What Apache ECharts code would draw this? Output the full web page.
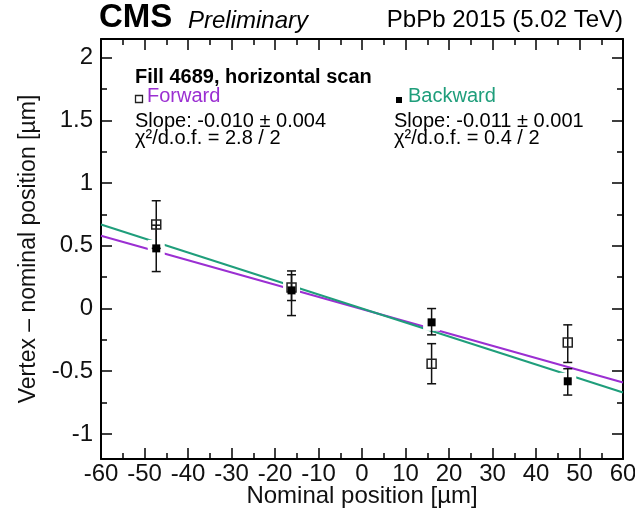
<!DOCTYPE html>
<html>
<head>
<meta charset="utf-8">
<script src="https://cdn.jsdelivr.net/npm/echarts@6/dist/echarts.min.js"></script>
<style>
  html, body { margin: 0; padding: 0; background: #fff; }
  #chart { width: 635px; height: 512px; }
</style>
</head>
<body>
<div id="chart"></div>
<script>
// scan points (nominal position, um)
const positions = [-47.3, -16.2, 16.0, 47.3];

// Forward: open squares
const fwdY = [0.67, 0.167, -0.44, -0.27];
const fwdLow = [0.48, 0.064, -0.60, -0.43];
const fwdHigh = [0.86, 0.27, -0.28, -0.13];

// Backward: filled squares
const bwdY = [0.48, 0.145, -0.11, -0.58];
const bwdLow = [0.295, -0.056, -0.21, -0.69];
const bwdHigh = [0.665, 0.30, 0.0, -0.48];

// fit lines, value at x = -60 and x = 60
const fitX = [-60, 60];
const fwdFit = [0.58, -0.59];
const bwdFit = [0.67, -0.67];

const yMajor = [-1, -0.5, 0, 0.5, 1, 1.5, 2];
const yMinor = [-0.75, -0.25, 0.25, 0.75, 1.25, 1.75];

const purple = '#9b2fd2';
const green = '#1f9e7b';
const font = 'Liberation Sans';

const zip = (xs, ...cols) => xs.map((x, i) => [x, ...cols.map(c => c[i])]);

const errorBars = (data, z) => ({
  type: 'custom',
  z,
  silent: true,
  data,
  encode: { x: 0, y: [1, 2] },
  renderItem(params, api) {
    const x = api.value(0);
    const lo = api.coord([x, api.value(1)]);
    const hi = api.coord([x, api.value(2)]);
    const w = 4.5;
    const style = { stroke: '#111', lineWidth: 1.5 };
    return {
      type: 'group',
      children: [
        { type: 'line', shape: { x1: lo[0], y1: lo[1], x2: hi[0], y2: hi[1] }, style },
        { type: 'line', shape: { x1: lo[0] - w, y1: lo[1], x2: lo[0] + w, y2: lo[1] }, style },
        { type: 'line', shape: { x1: hi[0] - w, y1: hi[1], x2: hi[0] + w, y2: hi[1] }, style }
      ]
    };
  }
});

const axisLine = { show: true, onZero: false, lineStyle: { color: '#000', width: 2 } };
const noLine = { show: false, onZero: false };
const tick = (length, customValues) => ({
  inside: true, length, customValues, lineStyle: { color: '#000', width: 1.5 }
});

const xBase = {
  type: 'value', min: -60, max: 60, interval: 10,
  axisLine,
  axisTick: tick(11),
  minorTick: { show: true, splitNumber: 2, length: 6, lineStyle: { color: '#000', width: 1.5 } },
  splitLine: { show: false }
};

const yBase = { type: 'value', min: -1.2, max: 2.15, splitLine: { show: false }, axisLabel: { show: false } };

const chart = echarts.init(document.getElementById('chart'));

chart.setOption({
  animation: false,
  textStyle: { fontFamily: font },
  grid: { left: 101, right: 12, top: 39, bottom: 53, outerBoundsMode: 'none', containLabel: false },
  xAxis: [
    {
      ...xBase, position: 'bottom',
      axisLabel: { fontSize: 24, color: '#111', margin: 3, showMinLabel: true, showMaxLabel: true },
      name: 'Nominal position [µm]', nameLocation: 'middle', nameGap: 25, nameMoveOverlap: false,
      nameTextStyle: { fontSize: 24, color: '#111' }
    },
    { ...xBase, position: 'top', axisLabel: { show: false } }
  ],
  yAxis: [
    {
      ...yBase, position: 'left',
      axisLine,
      axisTick: tick(11, yMajor),
      axisLabel: { fontSize: 24, color: '#111', margin: 8, customValues: yMajor },
      name: 'Vertex – nominal position [µm]', nameLocation: 'middle', nameGap: 61, nameMoveOverlap: false,
      nameTextStyle: { fontSize: 23, color: '#111' }
    },
    { ...yBase, position: 'left', axisLine: noLine, axisTick: tick(6, yMinor) },
    { ...yBase, position: 'right', axisLine, axisTick: tick(11, yMajor) },
    { ...yBase, position: 'right', axisLine: noLine, axisTick: tick(6, yMinor) }
  ],
  series: [
    {
      type: 'line', z: 2, data: zip(fitX, fwdFit), symbol: 'none', silent: true,
      lineStyle: { color: purple, width: 2 }
    },
    {
      type: 'line', z: 2, data: zip(fitX, bwdFit), symbol: 'none', silent: true,
      lineStyle: { color: green, width: 2 }
    },
    {
      // white halo round the filled markers
      type: 'scatter', z: 3, data: zip(positions, bwdY), symbol: 'rect', symbolSize: 17,
      itemStyle: { color: '#fff', opacity: 1 }, silent: true
    },
    errorBars(zip(positions, fwdLow, fwdHigh), 4),
    errorBars(zip(positions, bwdLow, bwdHigh), 4),
    {
      type: 'scatter', z: 5, data: zip(positions, fwdY), symbol: 'rect', symbolSize: 9,
      itemStyle: { color: 'rgba(255,255,255,0)', borderColor: '#222', borderWidth: 1.5, opacity: 1 }
    },
    {
      type: 'scatter', z: 6, data: zip(positions, bwdY), symbol: 'rect', symbolSize: 8,
      itemStyle: { color: '#000', opacity: 1 }
    }
  ],
  graphic: [
    { type: 'text', x: 99, y: 18, style: { text: 'CMS', font: `bold 33px "${font}"`, fill: '#000', verticalAlign: 'middle' } },
    { type: 'text', x: 188, y: 21, style: { text: 'Preliminary', font: `italic 24px "${font}"`, fill: '#000', verticalAlign: 'middle' } },
    { type: 'text', x: 623, y: 20, style: { text: 'PbPb 2015 (5.02 TeV)', font: `24px "${font}"`, fill: '#000', align: 'right', verticalAlign: 'middle' } },
    { type: 'text', x: 135, y: 77, style: { text: 'Fill 4689, horizontal scan', font: `bold 20px "${font}"`, fill: '#000', verticalAlign: 'middle' } },
    { type: 'rect', shape: { x: 135.5, y: 95.5, width: 7, height: 7 }, style: { fill: 'none', stroke: '#222', lineWidth: 1.3 } },
    { type: 'text', x: 147, y: 96, style: { text: 'Forward', font: `20px "${font}"`, fill: purple, verticalAlign: 'middle' } },
    { type: 'rect', shape: { x: 396, y: 97, width: 6, height: 6 }, style: { fill: '#000' } },
    { type: 'text', x: 408, y: 96, style: { text: 'Backward', font: `20px "${font}"`, fill: green, verticalAlign: 'middle' } },
    { type: 'text', x: 135, y: 121, style: { text: 'Slope: -0.010 ± 0.004', font: `20px "${font}"`, fill: '#000', verticalAlign: 'middle' } },
    { type: 'text', x: 135, y: 138, style: { text: 'χ²/d.o.f. = 2.8 / 2', font: `20px "${font}"`, fill: '#000', verticalAlign: 'middle' } },
    { type: 'text', x: 394, y: 121, style: { text: 'Slope: -0.011 ± 0.001', font: `20px "${font}"`, fill: '#000', verticalAlign: 'middle' } },
    { type: 'text', x: 394, y: 138, style: { text: 'χ²/d.o.f. = 0.4 / 2', font: `20px "${font}"`, fill: '#000', verticalAlign: 'middle' } }
  ]
});
</script>
</body>
</html>
